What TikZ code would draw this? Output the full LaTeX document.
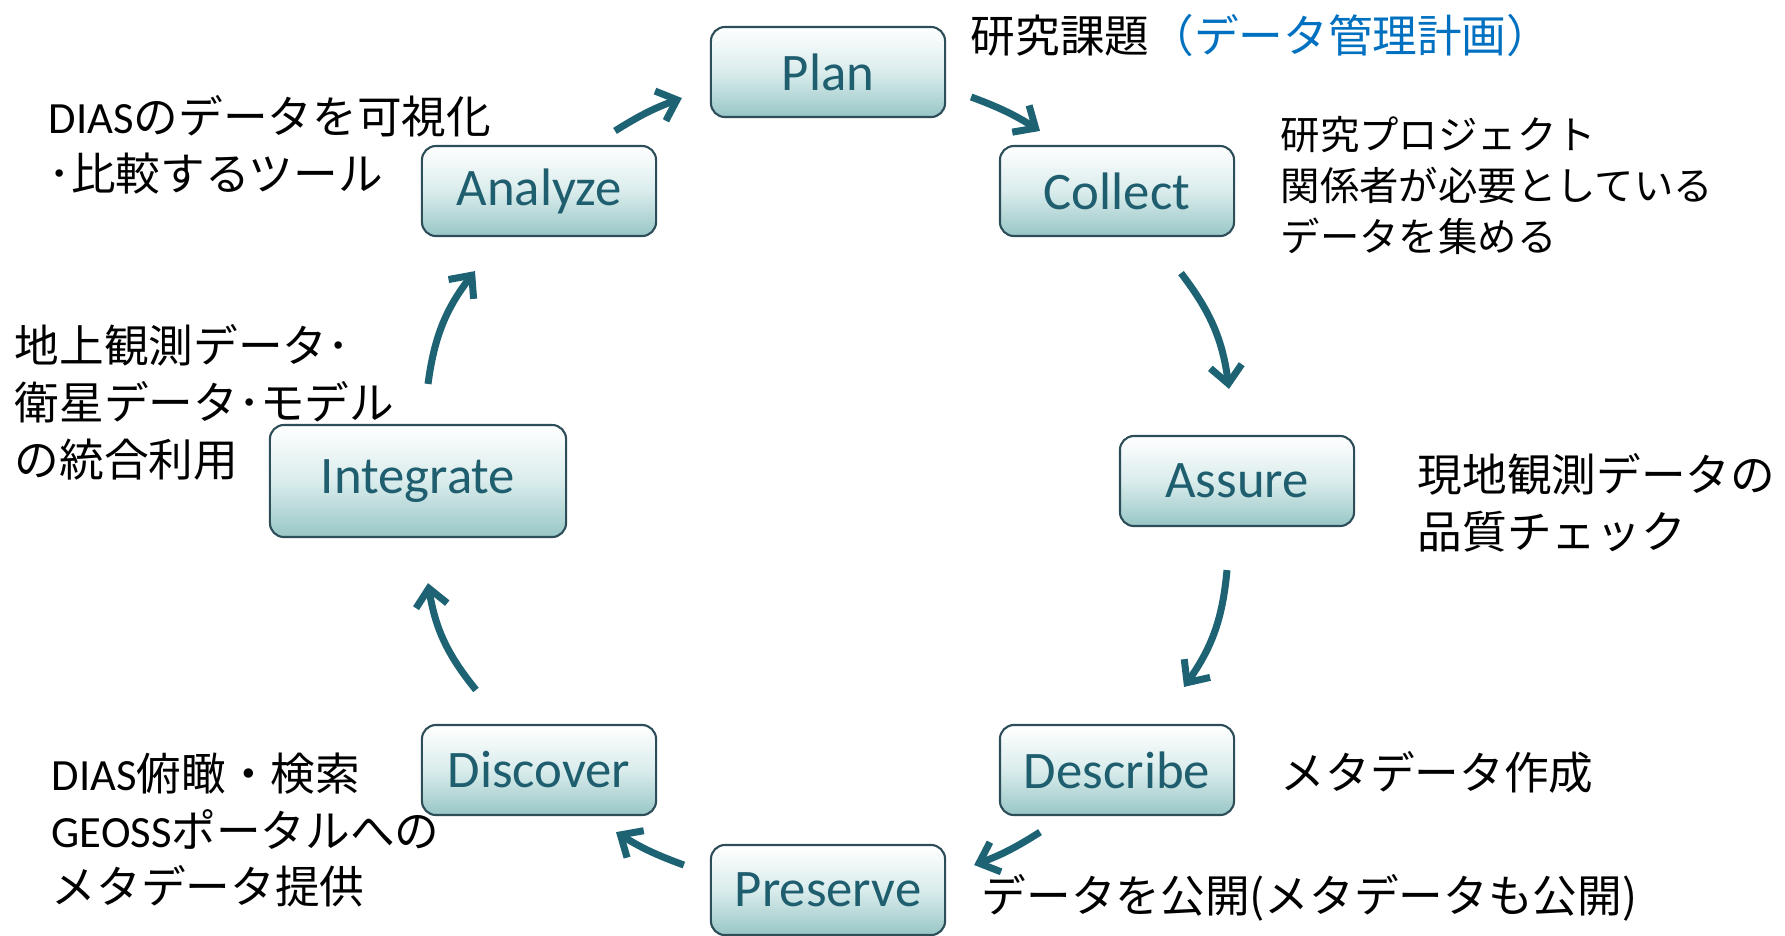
\documentclass[tikz,border=0pt]{standalone}
\usepackage{fontspec}
\usepackage{xcolor}
\setmainfont{Noto Sans CJK JP}
\newfontfamily\latinfont{Carlito}
\usetikzlibrary{arrows.meta}
\definecolor{boxtext}{RGB}{31,94,110}
\definecolor{boxline}{RGB}{45,78,88}
\definecolor{boxbot}{RGB}{152,198,198}
\definecolor{boxmid}{RGB}{218,236,236}
\definecolor{cycarrow}{RGB}{30,99,116}
\definecolor{notesblue}{RGB}{0,112,192}
\newcommand\latword[1]{{\latinfont #1}}

\begin{document}
\begin{tikzpicture}[x=0.01cm,y=-0.01cm,
    phase/.style={draw=boxline, line width=0.6pt, rounded corners=4pt,
      top color=white, bottom color=boxbot, middle color=boxmid,
      minimum width=2.34cm, minimum height=0.9cm, inner sep=0pt,
      text=boxtext, font=\latinfont\fontsize{15}{17}\selectfont},
    note/.style={anchor=west, align=left, inner sep=0pt,
      font=\fontsize{12.7}{16.2}\selectfont},
    cyc/.style={draw=cycarrow, line width=2pt,
      -{Straight Barb[length=5pt,width=9pt]}}]
  \useasboundingbox (0,0) rectangle (1785,935);
  \node[phase] (plan) at (828,72) {Plan};
  \node[phase] (collect) at (1117,191) {Collect};
  \node[phase] (assure) at (1237,481) {Assure};
  \node[phase] (describe) at (1117,770) {Describe};
  \node[phase] (preserve) at (828,890) {Preserve};
  \node[phase] (discover) at (539,770) {Discover};
  \node[phase, minimum width=2.96cm, minimum height=1.12cm] (integrate) at (418,481) {Integrate};
  \node[phase] (analyze) at (539,191) {Analyze};

  \draw[cyc] ([shift={(25,25)}]plan.east) to[bend left=6] ([shift={(-77,-14)}]collect.north);
  \draw[cyc] ([shift={(64,36)}]collect.south) to[bend left=15] ([shift={(-8,-46)}]assure.north);
  \draw[cyc] ([shift={(-10,43)}]assure.south) to[bend left=15] ([shift={(67,-37)}]describe.north);
  \draw[cyc] ([shift={(-77,16)}]describe.south) to[bend left=6] ([shift={(28,-25)}]preserve.east);
  \draw[cyc] ([shift={(-26,-25)}]preserve.west) to[bend left=6] ([shift={(77,16)}]discover.south);
  \draw[cyc] ([shift={(-63,-34)}]discover.north) to[bend left=15] ([shift={(10,45)}]integrate.south);
  \draw[cyc] ([shift={(10,-40)}]integrate.north) to[bend left=15] ([shift={(-64,34)}]analyze.south);
  \draw[cyc] ([shift={(76,-14)}]analyze.north) to[bend left=6] ([shift={(-28,26)}]plan.west);

  \node[note] (n-plan) at (970,36) {研究課題\textcolor{notesblue}{（データ管理計画）}};
  \node[note, font=\fontsize{11.2}{14.5}\selectfont] (n-collect) at (1280,185) {研究プロジェクト\\関係者が必要としている\\データを集める};
  \node[note] (n-assure) at (1417,503) {現地観測データの\\品質チェック};
  \node[note] (n-describe) at (1280,772) {メタデータ作成};
  \node[note] (n-preserve) at (981,898) {データを公開(メタデータも公開)};
  \node[note] (n-discover) at (51,830) {\latword{DIAS}俯瞰・検索\\\latword{GEOSS}ポータルへの\\メタデータ提供};
  \node[note] (n-integrate) at (14,402) {地上観測データ･\\衛星データ･モデル\\の統合利用};
  \node[note] (n-analyze) at (48,145) {\latword{DIAS}のデータを可視化\\･比較するツール};
\end{tikzpicture}
\end{document}
